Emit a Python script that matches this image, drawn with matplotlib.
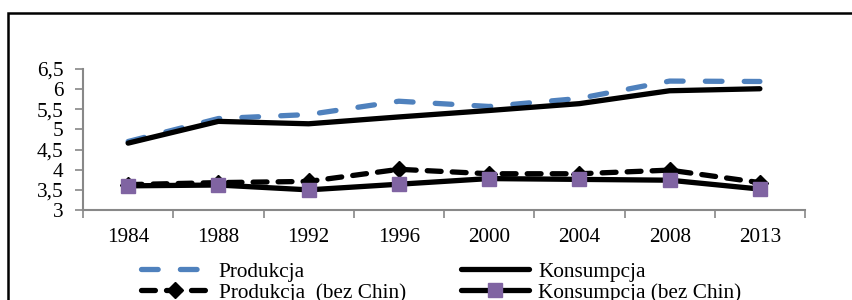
import matplotlib
matplotlib.use("Agg")
import matplotlib.pyplot as plt
from matplotlib.patches import Rectangle
from matplotlib.ticker import FixedLocator, FuncFormatter

years = ["1984", "1988", "1992", "1996", "2000", "2004", "2008", "2013"]
produkcja = [4.70, 5.27, 5.37, 5.70, 5.57, 5.77, 6.20, 6.19]
konsumpcja = [4.66, 5.20, 5.14, 5.31, 5.47, 5.64, 5.96, 6.01]
produkcja_bez = [3.63, 3.68, 3.71, 4.01, 3.90, 3.90, 3.99, 3.68]
konsumpcja_bez = [3.60, 3.62, 3.50, 3.64, 3.78, 3.76, 3.74, 3.52]
yticks = [3, 3.5, 4, 4.5, 5, 5.5, 6, 6.5]

plt.rcParams['font.family'] = ['Liberation Serif', 'DejaVu Serif']
plt.rcParams['lines.scale_dashes'] = False
FS = 15.3

fig = plt.figure(figsize=(8.53, 3.0), dpi=100)
ax = fig.add_axes([83/853, 1-210/300, (805-83)/853, (210-69)/300])

x = list(range(len(years)))
blue = '#4F81BD'
purple = '#8064A2'

ax.plot(x, produkcja, color=blue, lw=3.8, linestyle=(0, (12, 16)),
        dash_capstyle='round', label='Produkcja', zorder=3)
ax.plot(x, konsumpcja, color='black', lw=3.8, solid_capstyle='round',
        label='Konsumpcja', zorder=4)
ax.plot(x, produkcja_bez, color='black', lw=3.8, linestyle=(0, (10, 8)),
        dash_capstyle='round', marker='D', markersize=8, markerfacecolor='black',
        markeredgecolor='black', label='Produkcja  (bez Chin)', zorder=3)
ax.plot(x, konsumpcja_bez, color='black', lw=3.8, solid_capstyle='round',
        marker='s', markersize=9.5, markerfacecolor=purple, markeredgecolor=purple,
        label='Konsumpcja (bez Chin)', zorder=4)

ax.set_xlim(-0.5, len(years) - 0.5)
ax.set_ylim(3, 6.5)
ax.yaxis.set_major_locator(FixedLocator(yticks))
ax.yaxis.set_major_formatter(FuncFormatter(lambda v, p: ('%g' % v).replace('.', ',')))
ax.set_xticks([i - 0.5 for i in range(len(years) + 1)])
ax.set_xticklabels([])
ax.set_xticks(x, minor=True)
ax.set_xticklabels(years, minor=True)
ax.tick_params(axis='x', which='minor', length=0, pad=13, labelsize=FS)
ax.tick_params(axis='x', which='major', length=6, width=1.2, color='#888888', direction='out')
ax.tick_params(axis='y', length=6, width=1.2, color='#888888', direction='out', pad=8, labelsize=FS)
for s in ['top', 'right']:
    ax.spines[s].set_visible(False)
for s in ['left', 'bottom']:
    ax.spines[s].set_color('#888888')
    ax.spines[s].set_linewidth(1.5)

handles, labels = ax.get_legend_handles_labels()
order = [0, 2, 1, 3]
leg = fig.legend([handles[i] for i in order], [labels[i] for i in order],
                 ncol=2, loc='upper left', bbox_to_anchor=(141/853, 1-262/300),
                 frameon=False, fontsize=FS, handlelength=3.2, handletextpad=0.45,
                 columnspacing=2.6, labelspacing=0.05, borderaxespad=0, borderpad=0)

fig.patches.append(Rectangle((8/853, -0.1), 1.0, 1-13/300 + 0.1, transform=fig.transFigure,
                             fill=False, edgecolor='black', lw=1.8, clip_on=False))

fig.savefig('out.png', dpi=100)
